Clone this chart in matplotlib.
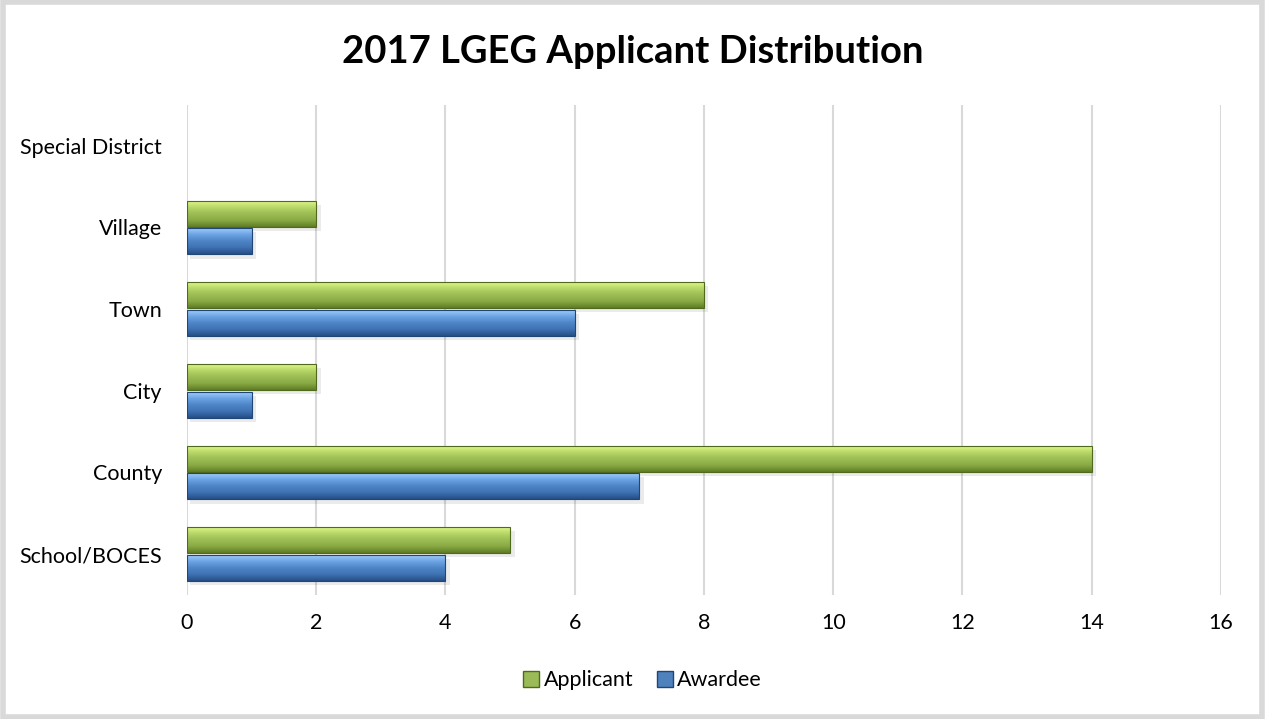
import numpy as np
import matplotlib
matplotlib.use("Agg")
import matplotlib.pyplot as plt
from matplotlib.patches import Rectangle, Patch
from matplotlib.colors import LinearSegmentedColormap

plt.rcParams['font.family'] = ['Lato', 'DejaVu Sans']

categories = ["School/BOCES", "County", "City", "Town", "Village", "Special District"]
applicant = [5, 14, 2, 8, 2, 0]
awardee = [4, 7, 1, 6, 1, 0]

green_cmap = LinearSegmentedColormap.from_list(
    "g", ["#5f7d26", "#8aaa45", "#9dbd55", "#b9d96a", "#e6fb8e"])
blue_cmap = LinearSegmentedColormap.from_list(
    "b", ["#264f86", "#3f73b4", "#4f86c8", "#6fa7e6", "#a8d2fa"])

fig = plt.figure(figsize=(12.65, 7.19), dpi=100)
ax = fig.add_axes([0.1478, 0.1725, 0.8174, 0.6815])

y = np.arange(len(categories))
h = 0.32
grad = np.linspace(0, 1, 64).reshape(-1, 1)


def bevel_bars(vals, offset, cmap, edge):
    for yi, v in zip(y, vals):
        if v <= 0:
            continue
        y0 = yi + offset - h / 2
        # soft shadow
        ax.add_patch(Rectangle((0.05, y0 - 0.05), v + 0.02, h, facecolor="#000000",
                               alpha=0.08, linewidth=0, zorder=2))
        rect = Rectangle((0, y0), v, h, facecolor="none", edgecolor=edge,
                         linewidth=0.8, zorder=4)
        ax.add_patch(rect)
        im = ax.imshow(grad, cmap=cmap, aspect="auto", origin="lower",
                       extent=[0, v, y0, y0 + h], zorder=3)
        im.set_clip_path(rect)


bevel_bars(applicant, 0.17, green_cmap, "#4f6a1c")
bevel_bars(awardee, -0.17, blue_cmap, "#1f4677")

ax.set_xlim(0, 16)
ax.set_ylim(-0.5, len(categories) - 0.5)
ax.set_xticks(range(0, 17, 2))
ax.set_yticks(y)
ax.set_yticklabels(categories)
ax.tick_params(length=0, labelsize=15.5, colors="#000000")
ax.tick_params(axis="y", pad=18)
ax.tick_params(axis="x", pad=13)
ax.grid(axis="x", color="#d9d9d9", linewidth=1.5, zorder=0)
ax.set_axisbelow(True)
for s in ax.spines.values():
    s.set_visible(False)

fig.text(0.5, 0.928, "2017 LGEG Applicant Distribution", ha="center", va="center",
         fontsize=27.5, fontweight="bold")

handles = [Patch(facecolor="#9bbb59", edgecolor="#4f6a1c", label="Applicant"),
           Patch(facecolor="#4f81bd", edgecolor="#1f4677", label="Awardee")]
fig.legend(handles=handles, loc="center", bbox_to_anchor=(0.508, 0.054), ncol=2,
           frameon=False, fontsize=15.5, handlelength=0.75, handleheight=0.75,
           handletextpad=0.2, columnspacing=1.1)

fig.add_artist(Rectangle((0.002, 0.003), 0.996, 0.994, transform=fig.transFigure,
                         fill=False, edgecolor="#d9d9d9", linewidth=4))

fig.savefig("out.png", dpi=100)
